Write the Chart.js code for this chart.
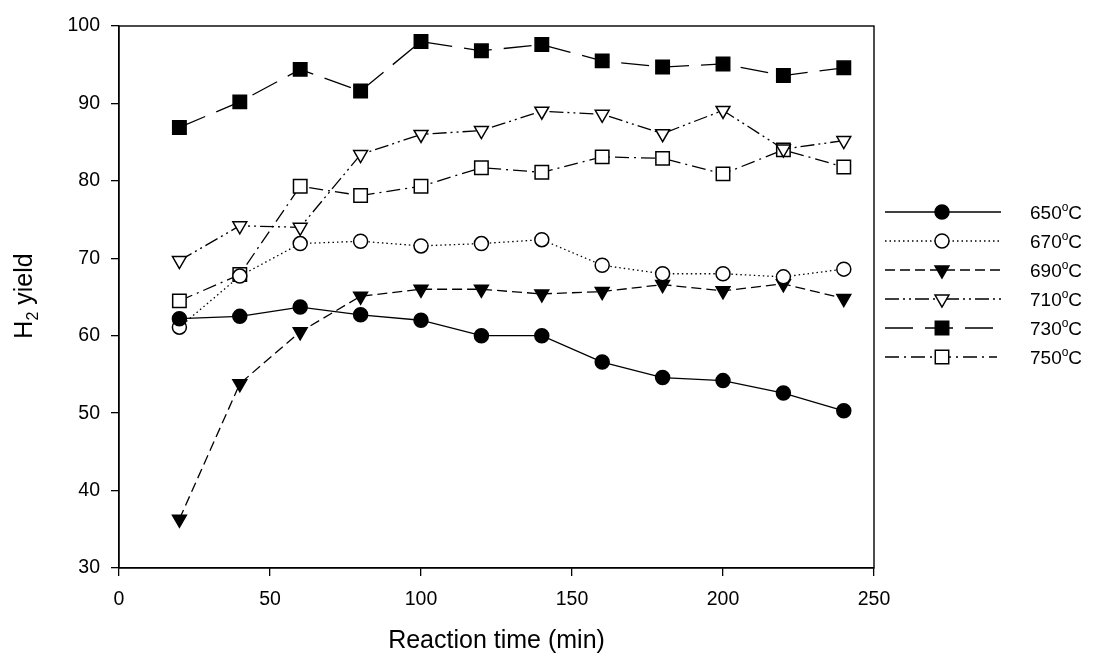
<!DOCTYPE html>
<html>
<head>
<meta charset="utf-8">
<script src="https://cdn.jsdelivr.net/npm/chart.js@4.4.1/dist/chart.umd.min.js"></script>
<style>
  html, body { margin: 0; padding: 0; background: #fff; }
  #wrap { width: 1093px; height: 656px; }
</style>
</head>
<body>
<div id="wrap"><canvas id="chart" width="1093" height="656"></canvas></div>
<script>
// reaction time (min)
var timeMin = [20, 40, 60, 80, 100, 120, 140, 160, 180, 200, 220, 240];

// H2 yield per temperature
var yield650 = [62.2, 62.5, 63.7, 62.7, 62.0, 60.0, 60.0, 56.6, 54.6, 54.2, 52.6, 50.3];
var yield670 = [61.1, 67.7, 71.9, 72.2, 71.6, 71.9, 72.4, 69.1, 68.0, 68.0, 67.6, 68.6];
var yield690 = [36.3, 53.8, 60.5, 65.1, 66.0, 66.0, 65.4, 65.7, 66.6, 65.8, 66.7, 64.8];
var yield710 = [69.7, 74.2, 74.0, 83.4, 86.0, 86.5, 89.0, 88.6, 86.1, 89.1, 84.1, 85.2];
var yield730 = [86.9, 90.2, 94.4, 91.6, 98.0, 96.8, 97.6, 95.5, 94.7, 95.1, 93.6, 94.6];
var yield750 = [64.5, 67.9, 79.3, 78.1, 79.3, 81.7, 81.1, 83.1, 82.9, 80.9, 84.0, 81.8];

var seriesNames = ['650', '670', '690', '710', '730', '750'];
var xTicks = [0, 50, 100, 150, 200, 250];
var yTicks = [30, 40, 50, 60, 70, 80, 90, 100];

var FONT = '"Liberation Sans", Arial, sans-serif';

function pts(arr) {
    var out = [];
    for (var i = 0; i < timeMin.length; i++) {
        out.push({x: timeMin[i], y: arr[i]});
    }
    return out;
}

function mkSet(name, arr, dash, style, filled, radius, rot) {
    return {
        label: name,
        data: pts(arr),
        borderColor: '#000',
        borderWidth: 1.3,
        borderDash: dash,
        pointStyle: style,
        pointRotation: rot || 0,
        pointRadius: radius,
        pointBorderWidth: 1.5,
        pointBorderColor: '#000',
        pointBackgroundColor: filled ? '#000' : '#fff',
        tension: 0
    };
}

var datasets = [
    mkSet(seriesNames[0], yield650, [], 'circle', true, 7),
    mkSet(seriesNames[1], yield670, [1.5, 3], 'circle', false, 7),
    mkSet(seriesNames[2], yield690, [10, 5], 'triangle', true, 8, 180),
    mkSet(seriesNames[3], yield710, [14, 4, 2, 4, 2, 4], 'triangle', false, 8, 180),
    mkSet(seriesNames[4], yield730, [28, 12], 'rect', true, 9.5),
    mkSet(seriesNames[5], yield750, [14, 5, 2, 5], 'rect', false, 9.5)
];
// where each legend line stops
var legendEnd = [1001, 1001, 1001, 1001, 993, 997];

// frame, y title and the side legend
var extras = {
    id: 'extras',
    afterDraw: function(chart) {
        var ctx = chart.ctx;
        var a = chart.chartArea;
        ctx.save();
        ctx.strokeStyle = '#000';
        ctx.lineWidth = 1.4;
        ctx.setLineDash([]);
        ctx.strokeRect(a.left, a.top, a.right - a.left, a.bottom - a.top);

        // y title: H2 yield
        ctx.translate(32, 296);
        ctx.rotate(-Math.PI / 2);
        ctx.fillStyle = '#000';
        ctx.textBaseline = 'alphabetic';
        ctx.font = '25px ' + FONT;
        var w1 = ctx.measureText('H').width;
        ctx.font = '16px ' + FONT;
        var w2 = ctx.measureText('2').width;
        ctx.font = '25px ' + FONT;
        var w3 = ctx.measureText(' yield').width;
        var sx = -(w1 + w2 + w3) / 2;
        ctx.fillText('H', sx, 0);
        ctx.font = '16px ' + FONT;
        ctx.fillText('2', sx + w1, 6);
        ctx.font = '25px ' + FONT;
        ctx.fillText(' yield', sx + w1 + w2, 0);
        ctx.restore();

        // legend
        chart.data.datasets.forEach(function(ds, i) {
            var y = 212 + 29 * i;
            ctx.save();
            ctx.strokeStyle = '#000';
            ctx.lineWidth = 1.3;
            ctx.setLineDash(ds.borderDash);
            ctx.beginPath();
            ctx.moveTo(885, y);
            ctx.lineTo(legendEnd[i], y);
            ctx.stroke();
            ctx.setLineDash([]);
            ctx.fillStyle = ds.pointBackgroundColor;
            ctx.lineWidth = ds.pointBorderWidth;
            Chart.helpers.drawPoint(ctx, {
                pointStyle: ds.pointStyle,
                rotation: ds.pointRotation,
                radius: ds.pointRadius,
                borderWidth: ds.pointBorderWidth
            }, 942, y);
            ctx.fillStyle = '#000';
            ctx.textBaseline = 'alphabetic';
            ctx.font = '19px ' + FONT;
            var tx = 1030;
            var base = y + 7;
            ctx.fillText(ds.label, tx, base);
            tx += ctx.measureText(ds.label).width;
            ctx.font = '12px ' + FONT;
            ctx.fillText('o', tx, base - 8);
            tx += ctx.measureText('o').width;
            ctx.font = '19px ' + FONT;
            ctx.fillText('C', tx, base);
            ctx.restore();
        });
    }
};

new Chart(document.getElementById('chart'), {
    type: 'line',
    data: { datasets: datasets },
    options: {
        responsive: false,
        animation: false,
        layout: { padding: { top: 26, right: 219, left: 0, bottom: 0 } },
        plugins: {
            legend: { display: false },
            tooltip: { enabled: false }
        },
        scales: {
            x: {
                type: 'linear',
                min: 0,
                max: 250,
                afterBuildTicks: function(s) { s.ticks = xTicks.map(function(v) { return {value: v}; }); },
                afterFit: function(s) { s.height = 88; },
                grid: { drawOnChartArea: false, drawTicks: true, tickLength: 8, color: '#000', lineWidth: 1.3 },
                border: { display: true, color: '#000', width: 1.3 },
                ticks: { color: '#000', font: { family: FONT, size: 19.5 }, padding: 12, maxRotation: 0 },
                title: { display: true, text: 'Reaction time (min)', color: '#000', font: { family: FONT, size: 25 }, padding: { top: 0, bottom: 0 } }
            },
            y: {
                min: 30,
                max: 100,
                afterBuildTicks: function(s) { s.ticks = yTicks.map(function(v) { return {value: v}; }); },
                afterFit: function(s) { s.width = 119; },
                grid: { drawOnChartArea: false, drawTicks: true, tickLength: 8, color: '#000', lineWidth: 1.3 },
                border: { display: true, color: '#000', width: 1.3 },
                ticks: { color: '#000', font: { family: FONT, size: 19.5 }, padding: 11 }
            }
        }
    },
    plugins: [extras]
});
</script>
</body>
</html>
